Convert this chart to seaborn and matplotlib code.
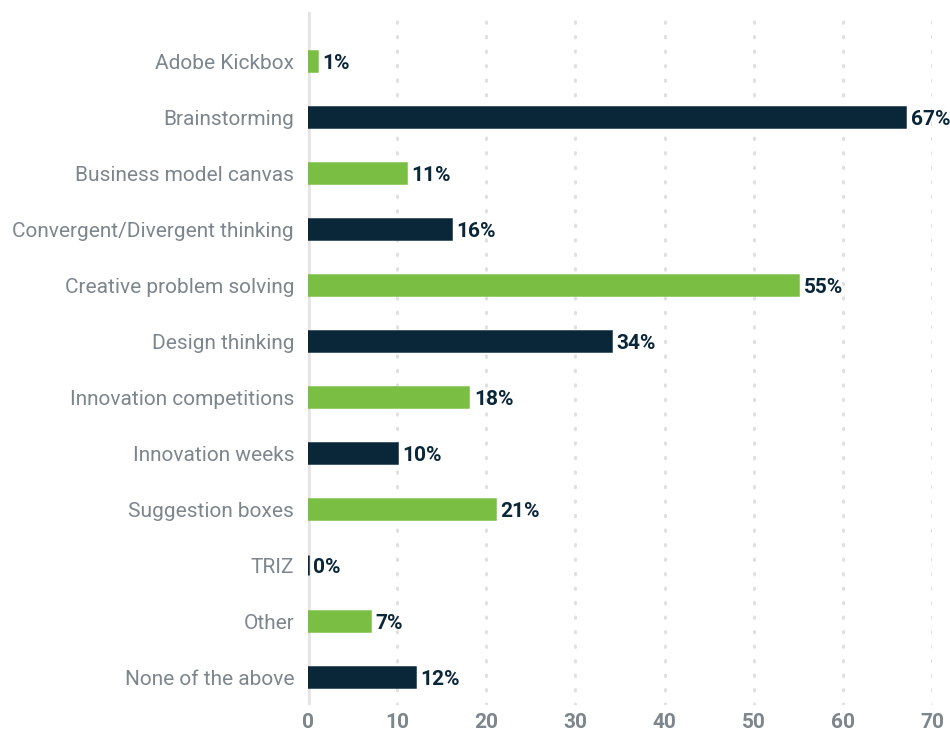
import matplotlib
matplotlib.use("Agg")
import matplotlib.pyplot as plt
import seaborn as sns
import pandas as pd

categories = [
    "Adobe Kickbox", "Brainstorming", "Business model canvas",
    "Convergent/Divergent thinking", "Creative problem solving",
    "Design thinking", "Innovation competitions", "Innovation weeks",
    "Suggestion boxes", "TRIZ", "Other", "None of the above",
]
values = [1, 67, 11, 16, 55, 34, 18, 10, 21, 0, 7, 12]
x_ticks = [0, 10, 20, 30, 40, 50, 60, 70]

GREEN = "#7abf43"
NAVY = "#0a2639"
bar_colors = [GREEN if i % 2 == 0 else NAVY for i in range(len(categories))]

sns.set_theme(style="white")
plt.rcParams["font.family"] = ["Roboto", "DejaVu Sans"]

df = pd.DataFrame({"method": categories, "share": values})

fig = plt.figure(figsize=(9.5, 7.38), dpi=100)
ax = fig.add_axes([0.3242, 0.0447, 0.981 - 0.3242, 0.9837 - 0.0447])

sns.barplot(data=df, x="share", y="method", hue="method", palette=bar_colors,
            order=categories, hue_order=categories, legend=False,
            saturation=1, width=0.36, orient="h", ax=ax, zorder=3)

# outline so that zero-valued bars remain visible as a sliver
for patch, c in zip(ax.patches, bar_colors):
    patch.set_edgecolor(c)
    patch.set_linewidth(1.8)

ax.set_xlim(0, 70)
ax.set_ylim(len(categories) - 0.5, -0.875)
ax.set_xticks(x_ticks)
ax.set_xticklabels([str(t) for t in x_ticks], fontsize=15, fontweight="bold",
                   color="#7d858d")
ax.tick_params(axis="y", labelsize=15, labelcolor="#7d858d", length=0, pad=10)
ax.tick_params(axis="x", length=0, pad=6)
for lbl in ax.get_yticklabels():
    lbl.set_va("center_baseline")
ax.set_xlabel("")
ax.set_ylabel("")

for s in ["top", "right", "bottom", "left"]:
    ax.spines[s].set_visible(False)

# dotted vertical gridlines
for t in x_ticks[1:]:
    ax.axvline(t, color="#e0e0e0", linestyle=(0, (0.45, 4.3)), linewidth=2.2,
               dash_capstyle="round", zorder=1)
# solid baseline at zero
ax.axvline(0, color="#e3e3e3", linewidth=4, zorder=2)

for i, v in enumerate(values):
    ax.text(v + 0.6, i, f"{v}%", va="center_baseline", ha="left", fontsize=15,
            fontweight="bold", color=NAVY, clip_on=False, zorder=4)

fig.savefig("out.png", dpi=100)
